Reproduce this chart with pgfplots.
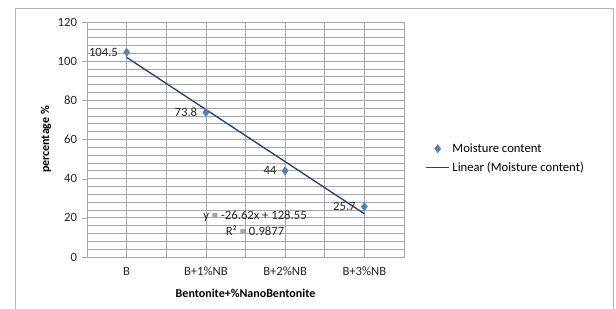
\documentclass[border=0pt]{standalone}
\usepackage{pgfplots}
\pgfplotsset{compat=1.18}
\usepackage{fontspec}
\setmainfont{Carlito}
\definecolor{mblue}{HTML}{4F81BD}
\definecolor{tline}{HTML}{1F3F7F}
\definecolor{gridc}{HTML}{A6A6A6}
\begin{document}
\begin{tikzpicture}
\useasboundingbox (-65.25pt,-39pt) rectangle (396.75pt,192.75pt);
\draw[gray!60, line width=0.6pt] (-54pt,-45pt) -- (-54pt,186.75pt) -- (394.5pt,186.75pt) -- (394.5pt,-45pt);
\begin{axis}[
  at={(0,0)}, anchor=south west,
  scale only axis, width=237.75pt, height=176.25pt,
  xmin=0.5, xmax=4.5, ymin=0, ymax=120,
  /pgf/number format/assume math mode=true,
  xtick={1,2,3,4}, xticklabels={B,B+1\%NB,B+2\%NB,B+3\%NB},
  extra x ticks={0.5,1.5,2.5,3.5,4.5}, extra x tick labels={},
  extra x tick style={grid=major, major tick length=4pt, tick pos=bottom, tick align=outside},
  ytick={0,20,...,120},
  minor y tick num=4,
  grid=both,
  major grid style={gridc, line width=0.5pt},
  minor grid style={gridc, line width=0.5pt},
  axis line style={gridc},
  tick style={gridc},
  major tick length=4pt,
  tick pos=left, tick align=outside,
  xtick style={draw=none},
  minor tick length=0pt,
  ticklabel style={font=\fontsize{9.5}{10}\selectfont, text=black!85},
  xlabel={\textbf{Bentonite+\%NanoBentonite}},
  ylabel={\textbf{percentage \%}},
  xlabel style={font=\fontsize{9}{10}\selectfont, yshift=5pt},
  ylabel style={font=\fontsize{9}{10}\selectfont, yshift=-2pt},
  legend style={at={(1.055,0.42)}, anchor=west, draw=none, fill=none,
    font=\fontsize{9.5}{10}\selectfont, row sep=2pt},
  legend cell align=left,
]
\addplot[only marks, mark=diamond*, mark size=3pt, color=mblue,
  nodes near coords, point meta=explicit symbolic,
  every node near coord/.append style={anchor=east, xshift=-3pt, font=\fontsize{9.5}{10}\selectfont, text=black!85}]
  coordinates {(1,104.5)[104.5] (2,73.8)[73.8] (3,44)[44] (4,25.7)[25.7]};
\addlegendentry{Moisture content}
\addplot[tline, line width=1pt, mark=none] coordinates {(1,101.93) (4,22.07)};
\addlegendentry{Linear (Moisture content)}
\node[font=\fontsize{9.5}{10}\selectfont, text=black!85] at (axis cs:2.62,20.9) {y = -26.62x + 128.55};
\node[font=\fontsize{9.5}{10}\selectfont, text=black!85] at (axis cs:2.62,13.6) {R² = 0.9877};
\end{axis}
\end{tikzpicture}
\end{document}
